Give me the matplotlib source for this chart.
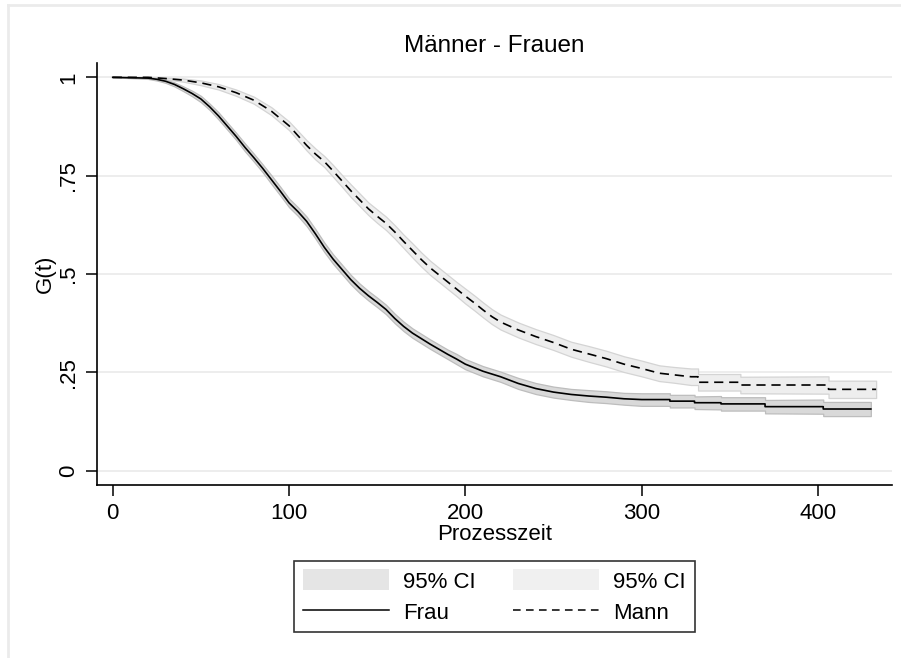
import numpy as np
import matplotlib
matplotlib.use("Agg")
import matplotlib.pyplot as plt
from matplotlib.patches import Patch
from matplotlib.lines import Line2D

plt.rcParams["font.family"] = ["Liberation Sans", "DejaVu Sans"]

# Survival estimates.
# Dense part: many tiny steps, read as a curve; tail: the visible jumps
# are kept as repeated time values.
t_frau = [0, 20, 25, 30, 35, 40, 45, 50, 55, 60, 65, 70, 75, 80, 85, 90, 95,
          100, 105, 110, 115, 120, 125, 130, 135, 140, 145, 150, 155, 160,
          165, 170, 175, 180, 185, 190, 195, 200, 205, 210, 215, 220, 230,
          240, 250, 260, 270, 280, 290,
          300, 316, 316, 330, 330, 345, 345, 370, 370, 403, 403, 430]
g_frau = [1.0, 0.998, 0.995, 0.990, 0.982, 0.971, 0.959, 0.945, 0.925, 0.902,
          0.876, 0.850, 0.822, 0.796, 0.769, 0.740, 0.711, 0.681, 0.659,
          0.634, 0.602, 0.568, 0.538, 0.512, 0.486, 0.464, 0.445, 0.428,
          0.410, 0.387, 0.367, 0.350, 0.336, 0.322, 0.309, 0.296, 0.284,
          0.271, 0.262, 0.253, 0.246, 0.239, 0.222, 0.209, 0.200, 0.194,
          0.190, 0.187, 0.183,
          0.181, 0.181, 0.177, 0.177, 0.173, 0.173, 0.170, 0.170, 0.163,
          0.163, 0.157, 0.157]
ci_frau = [0.000, 0.002, 0.003, 0.004, 0.005, 0.006, 0.007, 0.008, 0.008,
           0.009, 0.009, 0.009, 0.010, 0.010, 0.010, 0.011, 0.011, 0.011,
           0.011, 0.012, 0.012, 0.012, 0.012, 0.012, 0.012, 0.012, 0.012,
           0.012, 0.012, 0.012, 0.012, 0.012, 0.012, 0.012, 0.012, 0.012,
           0.013, 0.013, 0.013, 0.013, 0.013, 0.013, 0.014, 0.014, 0.014,
           0.014, 0.015, 0.015, 0.015,
           0.016, 0.016, 0.016, 0.016, 0.016, 0.017, 0.017, 0.017, 0.017,
           0.018, 0.018, 0.018]

t_mann = [0, 20, 30, 40, 50, 60, 70, 80, 90, 100, 105, 110, 115, 120, 125,
          130, 135, 140, 145, 150, 155, 160, 165, 170, 175, 180, 185, 190,
          195, 200, 205, 210, 215, 220, 230, 240, 250, 260, 270, 280, 290,
          300, 310, 318, 328, 332, 332, 356, 356, 406, 406, 433]
g_mann = [1.0, 1.0, 0.997, 0.993, 0.986, 0.976, 0.961, 0.942, 0.914, 0.877,
          0.852, 0.827, 0.805, 0.786, 0.762, 0.737, 0.712, 0.689, 0.666,
          0.647, 0.629, 0.607, 0.583, 0.560, 0.537, 0.516, 0.498, 0.480,
          0.462, 0.444, 0.427, 0.409, 0.392, 0.378, 0.358, 0.341, 0.326,
          0.309, 0.297, 0.285, 0.271,
          0.260, 0.248, 0.244, 0.239, 0.239, 0.225, 0.225, 0.218, 0.218,
          0.207, 0.207]
ci_mann = [0.000, 0.000, 0.002, 0.004, 0.006, 0.007, 0.008, 0.009, 0.010,
           0.011, 0.012, 0.013, 0.014, 0.014, 0.015, 0.015, 0.016, 0.016,
           0.016, 0.017, 0.017, 0.017, 0.017, 0.018, 0.018, 0.018, 0.018,
           0.018, 0.018, 0.019, 0.019, 0.019, 0.019, 0.019, 0.019, 0.019,
           0.019, 0.019, 0.020, 0.020, 0.020,
           0.020, 0.020, 0.020, 0.021, 0.021, 0.021, 0.021, 0.021, 0.022,
           0.022, 0.022]

x_ticks = [0, 100, 200, 300, 400]
y_ticks = [0, 0.25, 0.5, 0.75, 1]
y_tick_labels = ["0", ".25", ".5", ".75", "1"]

fig = plt.figure(figsize=(9.01, 6.58), dpi=100)
ax = fig.add_axes([0.1077, 0.263, 0.8823, 0.641])

tf = np.array(t_frau)
gf = np.array(g_frau)
cf = np.array(ci_frau)
tm = np.array(t_mann)
gm = np.array(g_mann)
cm = np.array(ci_mann)

# confidence bands
ax.fill_between(tm, gm - cm, gm + cm, facecolor="#eeeeee",
                edgecolor="#d4d4d4", linewidth=0.9, zorder=2)
ax.fill_between(tf, gf - cf, gf + cf, facecolor="#d9d9d9",
                edgecolor="#bdbdbd", linewidth=0.9, zorder=3)

# survival curves
ax.plot(tf, gf, color="black", linewidth=1.2, zorder=4)
ax.plot(tm, gm, color="black", linewidth=1.2, dashes=(5.5, 3.5), zorder=4)

ax.set_xlim(-8.9, 442)
ax.set_ylim(-0.036, 1.036)
ax.set_xticks(x_ticks)
ax.set_yticks(y_ticks)
ax.set_yticklabels(y_tick_labels, rotation=90, va="center")
ax.tick_params(axis="both", labelsize=16, length=8, width=1.1,
               direction="out", color="black")
ax.tick_params(axis="x", pad=5)
ax.tick_params(axis="y", pad=5)
ax.grid(axis="y", color="#eaeaea", linewidth=1.2, zorder=0)
ax.set_axisbelow(True)

for s in ["top", "right"]:
    ax.spines[s].set_visible(False)
for s in ["left", "bottom"]:
    ax.spines[s].set_linewidth(1.2)

ax.set_title("Männer - Frauen", fontsize=17.5, pad=8)
ax.set_xlabel("Prozesszeit", fontsize=16)
ax.xaxis.set_label_coords(0.5, -0.093)
ax.set_ylabel("G(t)", fontsize=16)
ax.yaxis.set_label_coords(-0.052, 0.5)

handles = [
    Patch(facecolor="#e5e5e5", edgecolor="none"),
    Line2D([0], [0], color="black", linewidth=1.1),
    Patch(facecolor="#f0f0f0", edgecolor="none"),
    Line2D([0], [0], color="black", linewidth=1.1, dashes=(5, 3.5)),
]
labels = ["95% CI", "Frau", "95% CI", "Mann"]
leg = fig.legend(handles, labels, ncol=2, loc="center",
                 bbox_to_anchor=(494.5 / 901, 1 - 596.5 / 658),
                 fontsize=16, handlelength=3.87, handleheight=1.08,
                 handletextpad=0.63, columnspacing=1.7, labelspacing=0.36,
                 borderpad=0.4, fancybox=False, frameon=True)
leg.get_frame().set_edgecolor("black")
leg.get_frame().set_linewidth(1.2)

# light frame of the graph region (top and left edges)
fig.add_artist(Line2D([8 / 901, 1], [1 - 5 / 658, 1 - 5 / 658],
                      transform=fig.transFigure, color="#ebebeb", linewidth=2))
fig.add_artist(Line2D([8 / 901, 8 / 901], [0, 1 - 5 / 658],
                      transform=fig.transFigure, color="#ebebeb", linewidth=2))

fig.savefig("out.png", dpi=100)
